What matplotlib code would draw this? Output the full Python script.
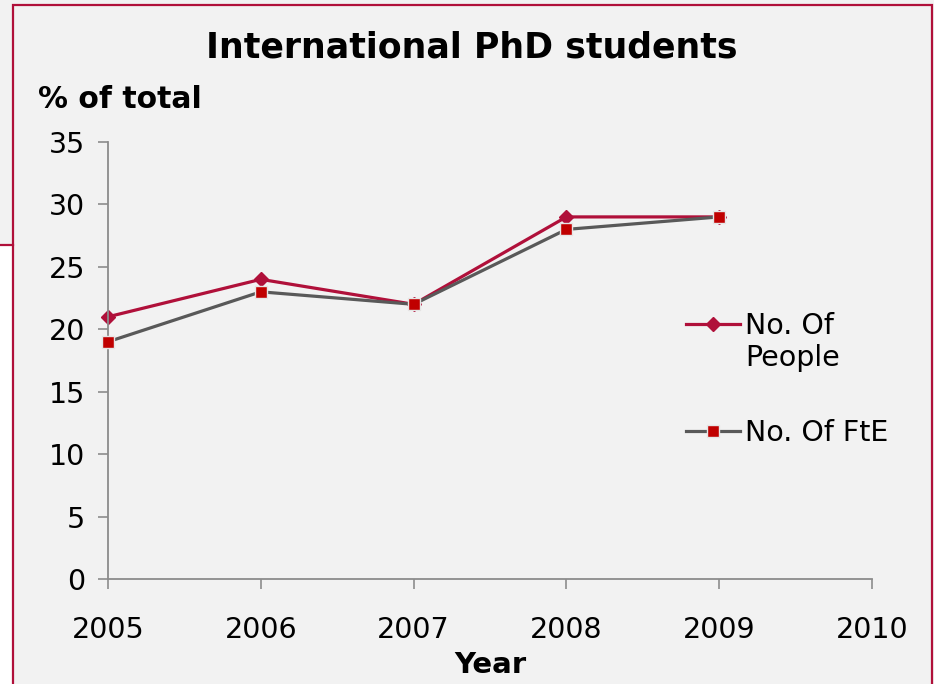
import matplotlib
matplotlib.use("Agg")
import matplotlib.pyplot as plt
from matplotlib.patches import Rectangle
from matplotlib.lines import Line2D

years = [2005, 2006, 2007, 2008, 2009]
people = [21, 24, 22, 29, 29]
fte = [19, 23, 22, 28, 29]
series_labels = ["No. Of", "No. Of FtE"]
label_extra = "People"
title = "International PhD students"
ylabel = "% of total"
xlabel = "Year"

W, H = 934, 684
bg = "#f2f2f2"
fig = plt.figure(figsize=(W / 100, H / 100), dpi=100, facecolor=bg)

crimson = "#b0103a"
# white strip bottom-left outside panel
fig.patches.append(Rectangle((0, 0), 13 / W, 1 - 245 / H, transform=fig.transFigure,
                             facecolor="white", edgecolor="none", zorder=-6))
# panel border
fig.patches.append(Rectangle((13 / W, -0.02), (932 - 13) / W, 1 - 5 / H + 0.02,
                             transform=fig.transFigure, facecolor=bg,
                             edgecolor=crimson, linewidth=1.6, zorder=-5))
fig.add_artist(Line2D([0, 13 / W], [1 - 245 / H] * 2, transform=fig.transFigure,
                      color=crimson, lw=1.6))

ax = fig.add_axes([108 / W, 1 - 579 / H, (872 - 108) / W, (579 - 142) / H])
ax.set_facecolor("none")
ax.set_zorder(2)

ax.plot(years, people, color=crimson, lw=2.3, marker="D", markersize=7.3,
        markerfacecolor=crimson, markeredgecolor=crimson, label=series_labels[0],
        zorder=2, clip_on=False)
ax.plot(years, fte, color="#595959", lw=2.3, marker="s", markersize=8.5,
        markerfacecolor="#c00000", markeredgecolor="#e6e6e6", markeredgewidth=1,
        label=series_labels[1], zorder=3, clip_on=False)

ax.set_xlim(2005, 2010)
ax.set_ylim(0, 35)
ax.set_xticks(range(2005, 2011))
ax.set_yticks(range(0, 36, 5))
for s in ["top", "right"]:
    ax.spines[s].set_visible(False)
for s in ["left", "bottom"]:
    ax.spines[s].set_color("#8c8c8c")
    ax.spines[s].set_linewidth(1.3)
ax.tick_params(axis="both", colors="#8c8c8c", length=7, width=1.2, labelsize=20.5,
               labelcolor="black")
ax.tick_params(axis="x", pad=20)
ax.tick_params(axis="y", pad=9.5)

fig.text(472 / W, 1 - 48 / H, title, ha="center", va="center",
         fontsize=25, fontweight="bold")
fig.text(38 / W, 1 - 99 / H, ylabel, ha="left", va="center",
         fontsize=21.5, fontweight="bold")
fig.text(490 / W, 1 - 665 / H, xlabel, ha="center", va="center",
         fontsize=21, fontweight="bold")

leg = ax.legend(loc="upper left", bbox_to_anchor=(686 / W, 1 - 312 / H),
                bbox_transform=fig.transFigure, frameon=False, fontsize=20.5,
                handlelength=1.9, handletextpad=0.18, labelspacing=2.76,
                borderaxespad=0, borderpad=0)
fig.text(745 / W, 1 - 358 / H, label_extra, ha="left", va="center", fontsize=20.5)

fig.savefig("out.png", dpi=100, facecolor=fig.get_facecolor())
